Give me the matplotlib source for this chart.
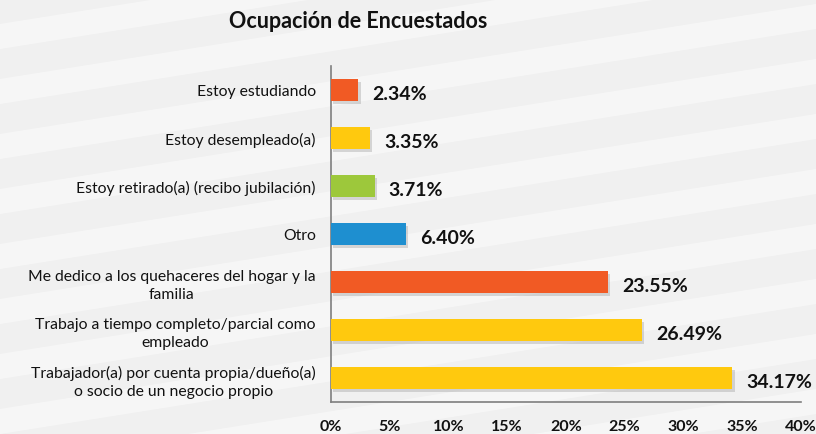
import numpy as np
import matplotlib.pyplot as plt
import matplotlib.patheffects as pe
import matplotlib.transforms as mtrans
from matplotlib.patches import Polygon

plt.rcParams['font.family'] = ['Lato', 'DejaVu Sans']

categories = [
    'Estoy estudiando',
    'Estoy desempleado(a)',
    'Estoy retirado(a) (recibo jubilación)',
    'Otro',
    'Me dedico a los quehaceres del hogar y la\nfamilia',
    'Trabajo a tiempo completo/parcial como\nempleado',
    'Trabajador(a) por cuenta propia/dueño(a)\no socio de un negocio propio',
]
values = [2.34, 3.35, 3.71, 6.40, 23.55, 26.49, 34.17]
colors = ['#F15A24', '#FFC90E', '#9DC83B', '#1E8FD0', '#F15A24', '#FFC90E', '#FFC90E']
xticks = [0, 5, 10, 15, 20, 25, 30, 35, 40]

W, H = 816, 435
fig = plt.figure(figsize=(W / 100, H / 100), dpi=100, facecolor='#f0f0f0')

# faint diagonal stripes in the background
for k in range(-12, 12):
    off = k * 55
    band = Polygon([(0, off / H), (1, (off + 130) / H), (1, (off + 155) / H), (0, (off + 25) / H)],
                   closed=True, transform=fig.transFigure, facecolor='white', alpha=0.45,
                   edgecolor='none', zorder=-10)
    fig.patches.append(band)

ax = fig.add_axes([0.4056, 0.0736, 0.576, 0.7724])
ax.set_facecolor('none')
ax.set_zorder(5)

# small downward nudge for the text next to the bars
down = mtrans.ScaledTranslation(0, -4 / 100, fig.dpi_scale_trans)

y = np.arange(len(categories))
bars = ax.barh(y, values, height=0.46, color=colors, zorder=3)
for b in bars:
    b.set_path_effects([pe.SimplePatchShadow(offset=(1.5, -2), shadow_rgbFace='#888888', alpha=0.3), pe.Normal()])

for yi, v in zip(y, values):
    ax.text(v + 1.2, yi, f'{v:.2f}%', va='center', ha='left',
            fontsize=14, fontweight='bold', color='#111111',
            transform=ax.transData + down)

ax.set_xlim(0, 40)
ax.set_ylim(len(categories) - 0.5, -0.5)
ax.set_yticks(y)
ax.set_yticklabels(categories, fontsize=11.3, color='#111111',
                   multialignment='center', linespacing=1.35)
for lab in ax.get_yticklabels():
    lab.set_transform(lab.get_transform() + down)
ax.set_xticks(xticks)
ax.set_xticklabels([f'{t}%' for t in xticks], fontsize=11.5, fontweight='bold', color='#111111')
ax.tick_params(axis='both', length=0)
ax.tick_params(axis='y', pad=11)
ax.tick_params(axis='x', pad=12)
for s in ['top', 'right']:
    ax.spines[s].set_visible(False)
for s in ['left', 'bottom']:
    ax.spines[s].set_color('#7f7f7f')
    ax.spines[s].set_linewidth(1.2)

fig.text(0.439, 0.95, 'Ocupación de Encuestados', ha='center', va='center',
         fontsize=15.5, fontweight='bold', color='#111111', zorder=6)

fig.savefig('out.png', dpi=100, facecolor=fig.get_facecolor())
